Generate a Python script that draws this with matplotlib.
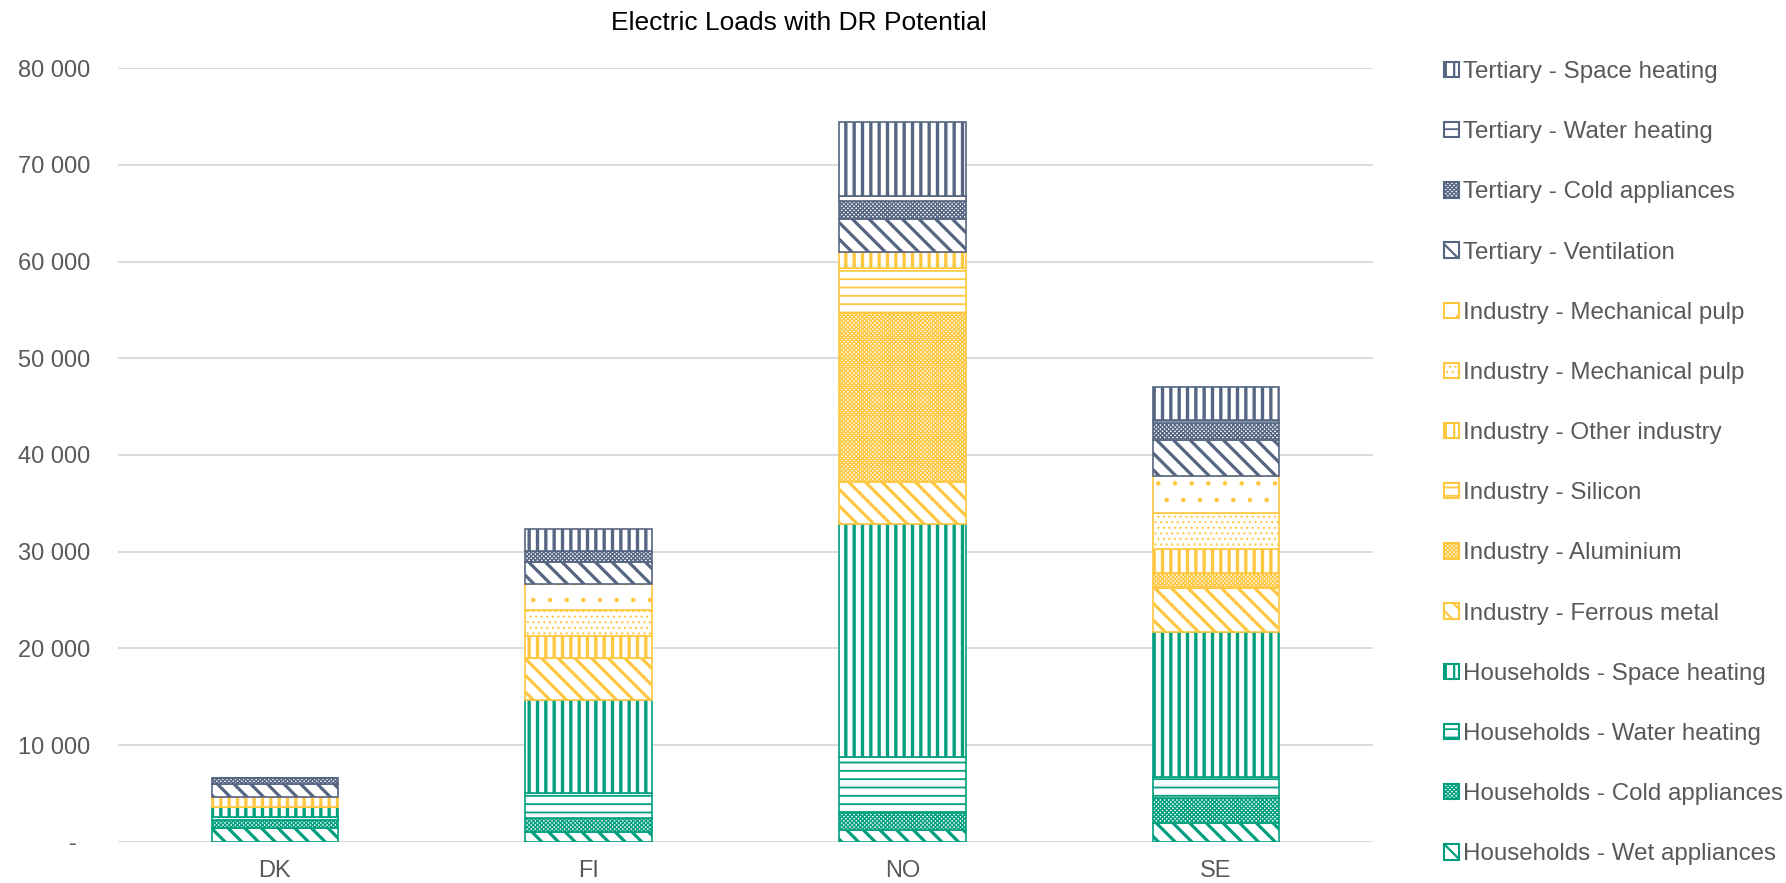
import matplotlib
matplotlib.use("Agg")
import matplotlib.pyplot as plt
from matplotlib.patches import Patch
from matplotlib.ticker import FuncFormatter

plt.rcParams['font.family'] = ['Liberation Sans', 'DejaVu Sans']

# ---- data (MW) ---------------------------------------------------------
countries = ["DK", "FI", "NO", "SE"]

# stacked bottom -> top
series_names = [
    "Households - Wet appliances",
    "Households - Cold appliances",
    "Households - Water heating",
    "Households - Space heating",
    "Industry - Ferrous metal",
    "Industry - Aluminium",
    "Industry - Silicon",
    "Industry - Other industry",
    "Industry - Mechanical pulp",
    "Industry - Mechanical pulp",
    "Tertiary - Ventilation",
    "Tertiary - Cold appliances",
    "Tertiary - Water heating",
    "Tertiary - Space heating",
]

hh_wet = [1380, 1030, 1210, 1900]
hh_cold = [860, 1390, 1890, 2650]
hh_water = [280, 2650, 5630, 2170]
hh_space = [1100, 9580, 24090, 15000]
ind_ferrous = [0, 4380, 4410, 4480]
ind_aluminium = [0, 0, 17410, 1560]
ind_silicon = [0, 0, 4660, 0]
ind_other = [970, 2240, 1700, 2510]
ind_pulp_a = [0, 2690, 0, 3750]
ind_pulp_b = [0, 2740, 0, 3800]
ter_vent = [1340, 2260, 3400, 3720]
ter_cold = [690, 1140, 1890, 1790]
ter_water = [0, 0, 510, 270]
ter_space = [0, 2200, 7590, 3450]

series_values = [hh_wet, hh_cold, hh_water, hh_space, ind_ferrous,
                 ind_aluminium, ind_silicon, ind_other, ind_pulp_a,
                 ind_pulp_b, ter_vent, ter_cold, ter_water, ter_space]

y_ticks = [0, 10000, 20000, 30000, 40000, 50000, 60000, 70000, 80000]

# ---- styles ------------------------------------------------------------
GREEN = "#00A07F"
YELLOW = "#FFC740"
SLATE = "#566682"
TEXT = "#595959"

DIAG = "\\\\"
CHECK = "xxxxxxxx"

# (colour, hatch, hatch line width in pt)
styles = [
    (GREEN, DIAG, 2.3),
    (GREEN, CHECK, 1.0),
    (GREEN, "--", 1.3),
    (GREEN, "||", 2.4),
    (YELLOW, DIAG, 2.3),
    (YELLOW, CHECK, 1.0),
    (YELLOW, "--", 1.3),
    (YELLOW, "||", 2.4),
    (YELLOW, "...", 0.8),
    (YELLOW, ".", 0.8),
    (SLATE, DIAG, 2.3),
    (SLATE, CHECK, 1.0),
    (SLATE, "--", 1.3),
    (SLATE, "||", 2.4),
]


def set_hatch_lw(artist, lw):
    """Give a single patch its own hatch line width."""
    if hasattr(artist, "set_hatch_linewidth"):
        artist.set_hatch_linewidth(lw)
    orig_draw = artist.draw

    def draw(renderer, *args, **kwargs):
        with matplotlib.rc_context({"hatch.linewidth": lw}):
            return orig_draw(renderer, *args, **kwargs)

    artist.draw = draw


W, H = 1786, 883
fig = plt.figure(figsize=(W / 100, H / 100), dpi=100)
ax = fig.add_axes([118 / W, (H - 841.7) / H, (1373 - 118) / W, (841.7 - 68.1) / H])

x = list(range(len(countries)))
bottom = [0.0] * len(countries)
handles = []
for name, vals, (col, hatch, hlw) in zip(series_names, series_values, styles):
    bars = ax.bar(x, vals, width=0.403, bottom=bottom, facecolor="white",
                  edgecolor=col, hatch=hatch, linewidth=1.2, zorder=3)
    for b in bars:
        set_hatch_lw(b, hlw)
    bottom = [b0 + v for b0, v in zip(bottom, vals)]
    handles.append(Patch(facecolor="white", edgecolor=col, hatch=hatch,
                         linewidth=1.5, label=name))

ax.set_xlim(-0.5, len(countries) - 0.5)
ax.set_ylim(0, 80000)
ax.set_yticks(y_ticks)


def fmt(v, pos):
    if v == 0:
        return "-  "
    return f"{int(v):,}".replace(",", " ")


ax.yaxis.set_major_formatter(FuncFormatter(fmt))
ax.set_xticks(x)
ax.set_xticklabels(countries)
ax.tick_params(axis="both", length=0, labelsize=17, labelcolor=TEXT)
ax.tick_params(axis="y", pad=20)
ax.tick_params(axis="x", pad=13)
for s in ax.spines.values():
    s.set_visible(False)
ax.grid(axis="y", color="#D9D9D9", linewidth=1.3, zorder=0)
ax.set_axisbelow(True)

fig.text(799 / W, 1 - 30 / H, "Electric Loads with DR Potential",
         ha="center", va="baseline", fontsize=19, color="#000000")

leg = fig.legend(handles[::-1], series_names[::-1], loc="upper left",
                 bbox_to_anchor=(1444 / W, 1 - 61 / H), frameon=False,
                 fontsize=17.4, labelcolor=TEXT, handlelength=0.6,
                 handleheight=0.6, handletextpad=0.2, labelspacing=1.58,
                 borderpad=0, borderaxespad=0)
for lh, (col, hatch, hlw) in zip(leg.legend_handles, styles[::-1]):
    set_hatch_lw(lh, min(hlw, 1.6))

fig.savefig("out.png", dpi=100)
